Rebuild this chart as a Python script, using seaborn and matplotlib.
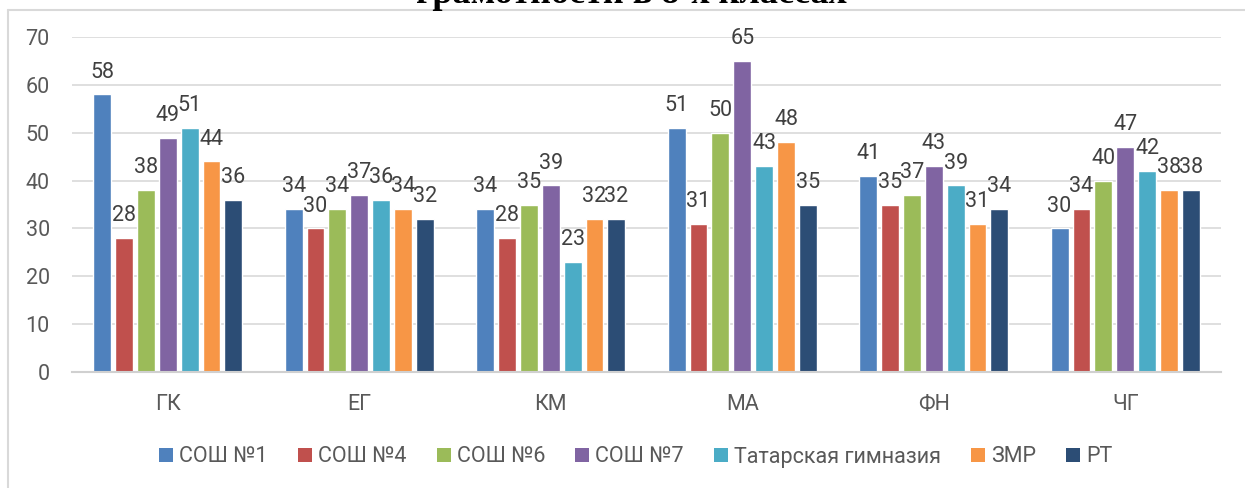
import pandas as pd
import seaborn as sns
import matplotlib.pyplot as plt
from matplotlib.patches import Patch
from matplotlib.lines import Line2D

# --- data ---
categories = ['ГК', 'ЕГ', 'КМ', 'МА', 'ФН', 'ЧГ']
schools = ['СОШ №1', 'СОШ №4', 'СОШ №6', 'СОШ №7', 'Татарская гимназия', 'ЗМР', 'РТ']
sosh1 = [58, 34, 34, 51, 41, 30]
sosh4 = [28, 30, 28, 31, 35, 34]
sosh6 = [38, 34, 35, 50, 37, 40]
sosh7 = [49, 37, 39, 65, 43, 47]
tat_gym = [51, 36, 23, 43, 39, 42]
zmr = [44, 34, 32, 48, 31, 38]
rt = [36, 32, 32, 35, 34, 38]
colors = ['#4F81BD', '#C0504D', '#9BBB59', '#8064A2', '#4BACC6', '#F79646', '#2C4D75']

series = [sosh1, sosh4, sosh6, sosh7, tat_gym, zmr, rt]
rows = []
for school, vals in zip(schools, series):
    for cat, v in zip(categories, vals):
        rows.append({'cat': cat, 'school': school, 'value': v})
df = pd.DataFrame(rows)

# --- style ---
sns.set_theme(style='white')
plt.rcParams['font.family'] = ['Roboto', 'DejaVu Sans']
text_gray = '#595959'
fs = 15.5

fig = plt.figure(figsize=(12.45, 4.88), dpi=100)
ax = fig.add_axes([72 / 1245, 1 - 372 / 488, 1149 / 1245, 335 / 488])

sns.barplot(data=df, x='cat', y='value', hue='school', palette=colors,
            width=0.8, gap=0.18, ax=ax, legend=False, saturation=1)

for cont in ax.containers:
    ax.bar_label(cont, padding=8.5, fontsize=fs, color='#404040')

ax.set_ylim(0, 70)
ax.set_yticks(range(0, 71, 10))
ax.set_xlim(-0.5, len(categories) - 0.5)
ax.yaxis.grid(True, color='#D9D9D9', linewidth=1.2)
ax.set_axisbelow(True)
for s in ['left', 'right', 'top']:
    ax.spines[s].set_visible(False)
ax.spines['bottom'].set_color('#D0D0D0')
ax.spines['bottom'].set_linewidth(1.5)
ax.tick_params(axis='y', length=0, pad=16, labelsize=fs, labelcolor=text_gray)
ax.tick_params(axis='x', length=0, pad=16, labelsize=fs, labelcolor=text_gray)
ax.set_xlabel('')
ax.set_ylabel('')

# legend
handles = [Patch(facecolor=c, edgecolor='none') for c in colors]
fig.legend(handles, schools, loc='center', bbox_to_anchor=(636 / 1245, 1 - 457 / 488),
           ncol=7, frameon=False, fontsize=fs, labelcolor=text_gray,
           handlelength=0.65, handleheight=0.65, handletextpad=0.28, columnspacing=1.4)

# chart frame (top and left edges visible)
fig.add_artist(Line2D([8 / 1245, 8 / 1245], [0, 1 - 9.5 / 488], transform=fig.transFigure,
                      color='#D9D9D9', linewidth=1.5))
fig.add_artist(Line2D([8 / 1245, 1], [1 - 9.5 / 488, 1 - 9.5 / 488], transform=fig.transFigure,
                      color='#D9D9D9', linewidth=1.5))

# title, mostly cut off by the top edge as in the reference
fig.text(631 / 1245, 1 - 3 / 488, 'Результаты функциональной\nграмотности в 8-х классах',
         ha='center', va='baseline', fontsize=26, fontweight='bold',
         family=['Liberation Serif', 'DejaVu Serif'], color='black', linespacing=1.0)

fig.savefig('out.png', dpi=100)
